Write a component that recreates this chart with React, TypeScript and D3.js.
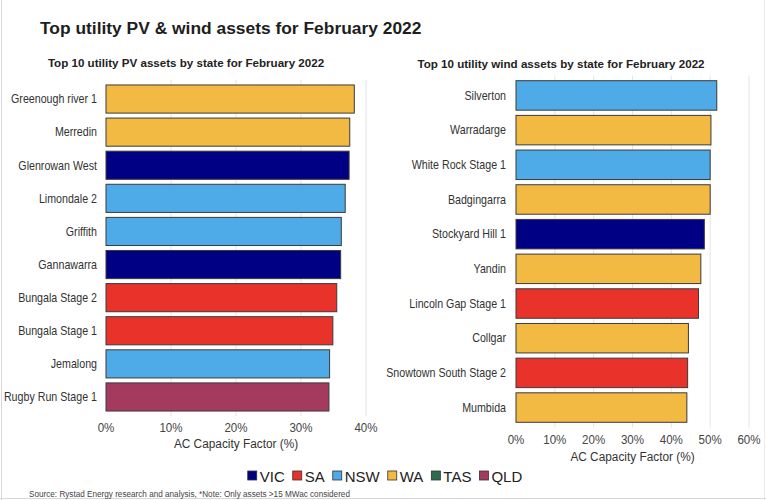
import React from "react";
import * as d3 from "d3";

const pvAssets = ["Greenough river 1", "Merredin", "Glenrowan West", "Limondale 2", "Griffith", "Gannawarra", "Bungala Stage 2", "Bungala Stage 1", "Jemalong", "Rugby Run Stage 1"];
const pvValues = [38.2, 37.5, 37.4, 36.8, 36.2, 36.1, 35.5, 34.9, 34.4, 34.3];
const pvStates = ["WA", "WA", "VIC", "NSW", "NSW", "VIC", "SA", "SA", "NSW", "QLD"];

const windAssets = ["Silverton", "Warradarge", "White Rock Stage 1", "Badgingarra", "Stockyard Hill 1", "Yandin", "Lincoln Gap Stage 1", "Collgar", "Snowtown South Stage 2", "Mumbida"];
const windValues = [51.7, 50.2, 50.0, 50.0, 48.5, 47.6, 47.0, 44.4, 44.2, 44.0];
const windStates = ["NSW", "WA", "NSW", "WA", "VIC", "WA", "SA", "WA", "SA", "WA"];

const states = ["VIC", "SA", "NSW", "WA", "TAS", "QLD"];
const stateColors = ["#000085", "#e8322a", "#4eabe8", "#f3ba43", "#2f6b50", "#a43b5f"];

const pvTicks = [0, 10, 20, 30, 40];
const windTicks = [0, 10, 20, 30, 40, 50, 60];

const title = "Top utility PV & wind assets for February 2022";
const pvTitle = "Top 10 utility PV assets by state for February 2022";
const windTitle = "Top 10 utility wind assets by state for February 2022";
const axisTitle = "AC Capacity Factor (%)";
const sourceText = "Source: Rystad Energy research and analysis, *Note: Only assets >15 MWac considered";

const FONT = "'Liberation Sans', Arial, sans-serif";
const color = d3.scaleOrdinal<string, string>().domain(states).range(stateColors);

function T({ x, y, sx = 0.89, size, anchor = "start", weight = "normal", fill = "#333", children }: any) {
  return (
    <text
      transform={`translate(${x},${y}) scale(${sx},1)`}
      fontSize={size}
      fontFamily={FONT}
      fontWeight={weight}
      textAnchor={anchor}
      fill={fill}
    >
      {children}
    </text>
  );
}

function measure(text: string, font: string) {
  if (typeof document === "undefined") return text.length * 8;
  const c = document.createElement("canvas");
  const ctx = c.getContext("2d");
  if (!ctx) return text.length * 8;
  ctx.font = font;
  return ctx.measureText(text).width;
}

function Panel({ names, values, st, ticks, xRange, yRange, labelX, tickY, axisY }: any) {
  const x = d3.scaleLinear().domain([0, ticks[ticks.length - 1]]).range(xRange);
  const y = d3.scaleBand<string>().domain(names).range(yRange).padding(0.15);
  return (
    <g>
      {ticks.filter((t: number) => t > 0).map((t: number) => (
        <line key={"g" + t} x1={x(t)} x2={x(t)} y1={yRange[0]} y2={yRange[1]} stroke="#e4e4e4" strokeWidth={1} />
      ))}
      {names.map((n: string, i: number) => (
        <rect
          key={n}
          x={x(0)}
          y={y(n)}
          width={x(values[i]) - x(0)}
          height={y.bandwidth()}
          fill={color(st[i])}
          stroke="#3a3a3a"
          strokeWidth={1}
        />
      ))}
      {names.map((n: string) => (
        <T key={"l" + n} x={labelX} y={(y(n) as number) + y.bandwidth() / 2 + 4.3} size={12} anchor="end">
          {n}
        </T>
      ))}
      {ticks.map((t: number) => (
        <T key={"t" + t} x={x(t)} y={tickY} size={13} anchor="middle" fill="#444">
          {t + "%"}
        </T>
      ))}
      <T x={(xRange[0] + xRange[1]) / 2} y={axisY} size={13.3} anchor="middle" fill="#333">
        {axisTitle}
      </T>
    </g>
  );
}

export default function App() {
  const legendFont = `15px 'Liberation Sans', Arial, sans-serif`;
  const sq = 9;
  const gapSq = 3;
  const gapItem = 8;
  const widths = states.map((s) => measure(s, legendFont));
  const total = widths.reduce((a, b) => a + b, 0) + states.length * (sq + gapSq) + (states.length - 1) * gapItem;
  let cur = 385 - total / 2;
  const legendItems = states.map((s, i) => {
    const start = cur;
    cur += sq + gapSq + widths[i] + gapItem;
    return { s, start };
  });

  return (
    <svg width={766} height={500} style={{ position: "absolute", left: 0, top: 0, background: "#fff" }}>
      <rect x={0} y={0} width={766} height={500} fill="#fff" />
      <line x1={1.5} x2={1.5} y1={0} y2={500} stroke="#d8d8d8" />
      <line x1={764.5} x2={764.5} y1={0} y2={500} stroke="#ececec" />
      <line x1={0} x2={766} y1={498.5} y2={498.5} stroke="#d8d8d8" />

      <T x={40} y={34} sx={1} size={17.4} weight="bold" fill="#1e1e1e">{title}</T>
      <T x={186} y={67.3} sx={1} size={11.6} weight="bold" anchor="middle" fill="#222">{pvTitle}</T>
      <T x={561} y={68.3} sx={1} size={11.6} weight="bold" anchor="middle" fill="#222">{windTitle}</T>

      <Panel
        names={pvAssets}
        values={pvValues}
        st={pvStates}
        ticks={pvTicks}
        xRange={[106, 366]}
        yRange={[80, 416]}
        labelX={97}
        tickY={431.5}
        axisY={447.5}
      />
      <Panel
        names={windAssets}
        values={windValues}
        st={windStates}
        ticks={windTicks}
        xRange={[516, 749]}
        yRange={[75.5, 427.5]}
        labelX={506}
        tickY={443.5}
        axisY={460.5}
      />

      {legendItems.map(({ s, start }) => (
        <g key={s}>
          <rect x={start} y={471} width={sq} height={sq} fill={color(s)} stroke="#333" strokeWidth={0.8} />
          <text x={start + sq + gapSq} y={482} fontSize={15} fontFamily={FONT} fill="#222">
            {s}
          </text>
        </g>
      ))}

      <T x={29} y={496.5} sx={0.95} size={8.6} fill="#444">{sourceText}</T>
    </svg>
  );
}
